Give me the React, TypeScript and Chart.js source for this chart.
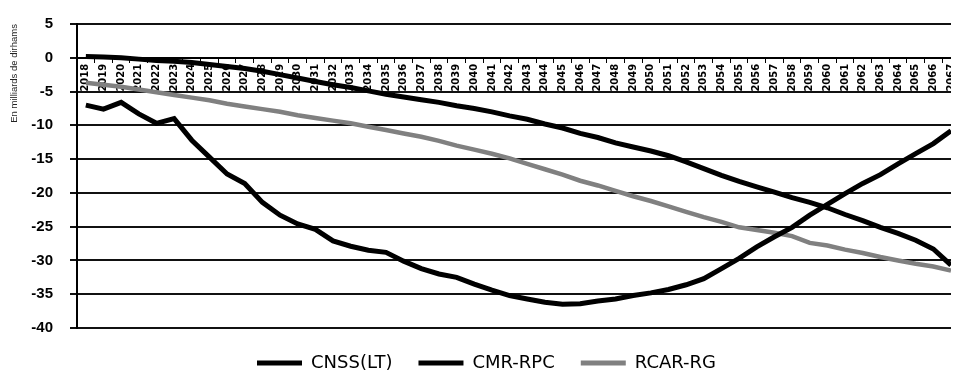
import React, { useEffect, useRef } from "react";
import { Chart, registerables } from "chart.js";

Chart.register(...registerables);

const years: string[] = [
  "2018","2019","2020","2021","2022","2023","2024","2025","2026","2027",
  "2028","2029","2030","2031","2032","2033","2034","2035","2036","2037",
  "2038","2039","2040","2041","2042","2043","2044","2045","2046","2047",
  "2048","2049","2050","2051","2052","2053","2054","2055","2056","2057",
  "2058","2059","2060","2061","2062","2063","2064","2065","2066","2067",
];

const cnssLT: number[] = [
  0.2, 0.1, 0.0, -0.2, -0.4, -0.5, -0.7, -1.0, -1.3, -1.6,
  -2.0, -2.5, -3.0, -3.5, -4.0, -4.4, -4.9, -5.4, -5.8, -6.2,
  -6.6, -7.1, -7.5, -8.0, -8.6, -9.1, -9.8, -10.4, -11.2, -11.8,
  -12.6, -13.2, -13.8, -14.5, -15.4, -16.4, -17.4, -18.3, -19.1, -19.9,
  -20.7, -21.4, -22.2, -23.2, -24.1, -25.1, -26.0, -27.0, -28.3, -30.7,
];

const cmrRPC: number[] = [
  -7.0, -7.6, -6.6, -8.3, -9.7, -9.0, -12.2, -14.7, -17.2, -18.6,
  -21.4, -23.3, -24.6, -25.4, -27.1, -27.9, -28.5, -28.8, -30.1, -31.2,
  -32.0, -32.5, -33.5, -34.4, -35.2, -35.7, -36.2, -36.5, -36.4, -36.0,
  -35.7, -35.2, -34.8, -34.3, -33.6, -32.7, -31.2, -29.7, -28.0, -26.5,
  -25.1, -23.3, -21.7, -20.1, -18.6, -17.3, -15.7, -14.2, -12.7, -10.8,
];

const rcarRG: number[] = [
  -3.7, -4.0, -4.3, -4.7, -5.1, -5.5, -5.9, -6.3, -6.8, -7.2,
  -7.6, -8.0, -8.5, -8.9, -9.3, -9.7, -10.2, -10.7, -11.2, -11.7,
  -12.3, -13.0, -13.6, -14.2, -14.9, -15.7, -16.5, -17.3, -18.2, -18.9,
  -19.7, -20.5, -21.2, -22.0, -22.8, -23.6, -24.3, -25.1, -25.5, -25.9,
  -26.4, -27.4, -27.8, -28.4, -28.9, -29.5, -30.0, -30.5, -30.9, -31.5,
];

const seriesNames: string[] = ["CNSS(LT)", "CMR-RPC", "RCAR-RG"];
const yTitle = "En milliards de dirhams";

export default function App() {
  const canvasRef = useRef<HTMLCanvasElement | null>(null);

  useEffect(() => {
    if (!canvasRef.current) return;
    const chart = new Chart(canvasRef.current, {
      type: "line",
      data: {
        labels: years,
        datasets: [
          {
            label: seriesNames[0],
            data: cnssLT,
            borderColor: "#000000",
            backgroundColor: "#000000",
            borderWidth: 5,
            pointRadius: 0,
            tension: 0,
          },
          {
            label: seriesNames[1],
            data: cmrRPC,
            borderColor: "#000000",
            backgroundColor: "#000000",
            borderWidth: 5,
            pointRadius: 0,
            tension: 0,
          },
          {
            label: seriesNames[2],
            data: rcarRG,
            borderColor: "#808080",
            backgroundColor: "#808080",
            borderWidth: 4.5,
            pointRadius: 0,
            tension: 0,
          },
        ],
      },
      options: {
        animation: false,
        responsive: true,
        maintainAspectRatio: false,
        layout: { padding: { top: 6, bottom: 10, left: 0, right: 0 } },
        plugins: {
          tooltip: { enabled: false },
          legend: {
            position: "bottom",
            labels: {
              boxWidth: 45,
              boxHeight: 5,
              padding: 26,
              color: "#000",
              font: { family: "'DejaVu Sans', sans-serif", size: 18 },
              generateLabels: (c: any) =>
                Chart.defaults.plugins.legend.labels
                  .generateLabels(c)
                  .map((l: any) => ({ ...l, lineWidth: 0 })),
            },
          },
        },
        scales: {
          x: {
            type: "category",
            position: { y: 0 } as any,
            offset: true,
            grid: {
              display: true,
              drawOnChartArea: false,
              drawTicks: true,
              tickLength: 4,
              color: "#000",
              offset: true,
            },
            border: { display: true, color: "#000", width: 2 },
            ticks: {
              autoSkip: false,
              minRotation: 90,
              maxRotation: 90,
              padding: 2,
              color: "#000",
              font: { family: "'DejaVu Sans', sans-serif", size: 10, weight: "bold" },
            },
          },
          y: {
            min: -40,
            max: 5,
            afterFit: (scale: any) => {
              scale.width = 69;
            },
            ticks: {
              stepSize: 5,
              padding: 17,
              color: "#000",
              font: { family: "'Liberation Sans', Arial, sans-serif", size: 15, weight: "bold" },
            },
            grid: {
              color: "#111",
              lineWidth: 2,
              tickLength: 7,
              drawTicks: true,
            },
            border: { display: true, color: "#000", width: 2 },
            title: {
              display: true,
              text: yTitle,
              align: "end",
              color: "#222",
              padding: 1,
              font: { family: "'Liberation Sans', Arial, sans-serif", size: 9.5 },
            },
          },
        },
      },
    });
    return () => chart.destroy();
  }, []);

  return (
    <div style={{ width: 951, height: 384, overflow: "hidden" }}>
      <div style={{ position: "relative", top: -10, width: 957, height: 394 }}>
        <canvas ref={canvasRef} />
      </div>
    </div>
  );
}
